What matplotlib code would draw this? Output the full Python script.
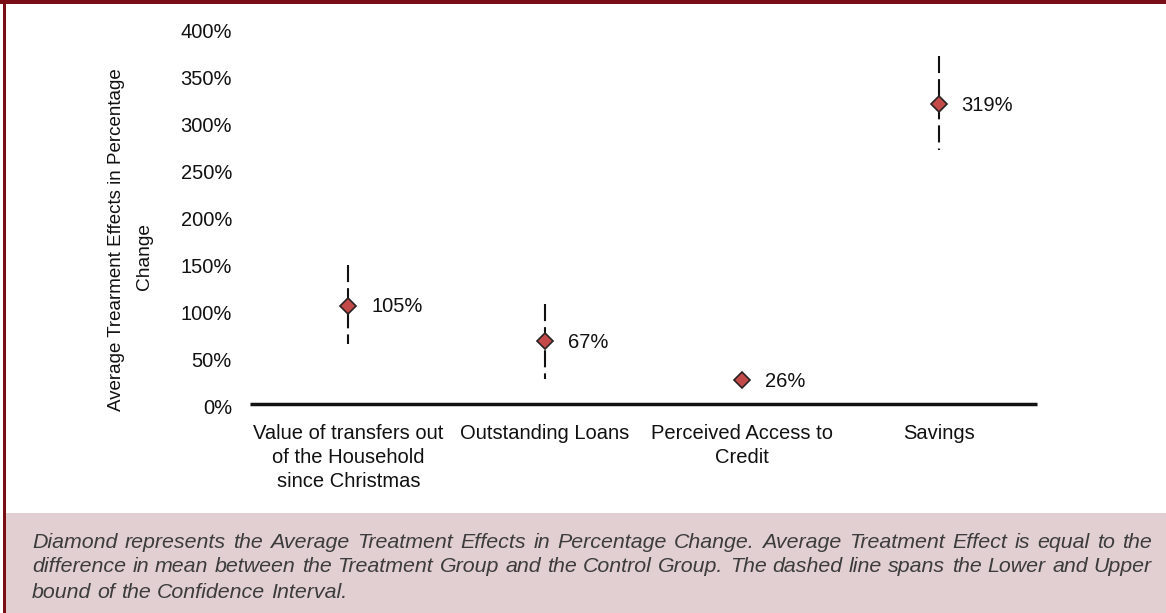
import numpy as np
import matplotlib
matplotlib.use("Agg")
import matplotlib.pyplot as plt
import matplotlib.transforms as mtransforms
from matplotlib.patches import Rectangle

# ---- data ----
categories = ["Value of transfers out\nof the Household\nsince Christmas",
              "Outstanding Loans",
              "Perceived Access to\nCredit",
              "Savings"]
ate = [105, 67, 26, 319]
ci_upper = [148, 107, np.nan, 370]
ci_lower = [64, 27, np.nan, 271]
yticks = [0, 50, 100, 150, 200, 250, 300, 350, 400]
ylabel_lines = ["Average Trearment Effects in Percentage", "Change"]
caption_lines = [
    "Diamond represents the Average Treatment Effects in Percentage Change. Average Treatment Effect is equal to the",
    "difference in mean between the Treatment Group and the Control Group. The dashed line spans the Lower and Upper",
    "bound of the Confidence Interval.",
]

W, H = 1166, 613
plt.rcParams['font.family'] = ['Liberation Sans', 'DejaVu Sans']
fig = plt.figure(figsize=(W / 100, H / 100), dpi=100)
fig.patch.set_facecolor('white')

BORDER = '#7A0E17'
# caption box
fig.patches.append(Rectangle((6 / W, 0), 1 - 6 / W, (H - 513) / H, transform=fig.transFigure,
                             facecolor='#E2CFD1', edgecolor='none', zorder=0))
# borders
fig.patches.append(Rectangle((0, 1 - 4 / H), 1, 4 / H, transform=fig.transFigure,
                             facecolor=BORDER, edgecolor='none', zorder=1))
fig.patches.append(Rectangle((3 / W, 0), 3 / W, 1, transform=fig.transFigure,
                             facecolor=BORDER, edgecolor='none', zorder=1))

# axes placement
left, right = 250 / W, 1037 / W
bottom, top = 1 - 404.3 / H, 1 - 28.3 / H
ax = fig.add_axes([left, bottom, right - left, top - bottom])
ax.set_facecolor('none')
x = np.arange(len(categories))
ax.set_xlim(-0.5, len(categories) - 0.5)
ax.set_ylim(0, 400)

for s in ['top', 'right', 'left']:
    ax.spines[s].set_visible(False)
ax.spines['bottom'].set_linewidth(2.5)
ax.spines['bottom'].set_color('#111111')
ax.spines['bottom'].set_capstyle('butt')

ax.set_yticks(yticks)
ax.set_yticklabels([f"{v}%" for v in yticks])
ax.set_xticks(x)
ax.set_xticklabels(categories, linespacing=1.33)
ax.tick_params(axis='y', length=0, pad=13, labelsize=14.5, labelcolor='#111111')
ax.tick_params(axis='x', length=0, pad=14, labelsize=14.5, labelcolor='#111111')
shift = mtransforms.ScaledTranslation(0, -1.5 / 72, fig.dpi_scale_trans)
for lab in ax.get_yticklabels():
    lab.set_transform(lab.get_transform() + shift)

# confidence intervals (dashed), drawn top to bottom
for xi, lo, up in zip(x, ci_lower, ci_upper):
    if np.isnan(lo) or np.isnan(up):
        continue
    ax.plot([xi, xi], [up, lo], color='#111111', lw=1.5,
            linestyle=(0, (8.2, 2.9)), dash_capstyle='butt', zorder=2, clip_on=False)

# diamonds
ax.plot(x, ate, linestyle='none', marker='D', markersize=8.2,
        markerfacecolor='#C44A4A', markeredgecolor='#2A2222', markeredgewidth=1.2,
        zorder=3, clip_on=False)

for xi, v in zip(x, ate):
    ax.annotate(f"{v}%", (xi, v), xytext=(16.5, -1), textcoords='offset points',
                ha='left', va='center', fontsize=14.5, color='#111111')

# y label (two centered lines)
fig.text(117 / W, 1 - 240 / H, ylabel_lines[0], rotation=90, ha='center', va='center',
         fontsize=13.5, color='#111111')
fig.text(144 / W, 1 - 256 / H, ylabel_lines[1], rotation=90, ha='center', va='center',
         fontsize=13.8, color='#111111')

# caption, justified
renderer = fig.canvas.get_renderer()
x0, x1 = 32, 1152
base_size = 13.3
probe = fig.text(0, 0, caption_lines[1], fontsize=base_size, style='italic')
natural = probe.get_window_extent(renderer).width
probe.remove()
cap_size = base_size * (x1 - x0) / natural * 0.995
cap_kw = dict(fontsize=cap_size, style='italic', color='#3C3C3C', va='center', ha='left')
line_y = [542, 567, 592]
sp = fig.text(0, 0, 'a a', **cap_kw)
sp2 = fig.text(0, 0, 'aa', **cap_kw)
space_w = sp.get_window_extent(renderer).width - sp2.get_window_extent(renderer).width
sp.remove(); sp2.remove()
for i, line in enumerate(caption_lines):
    words = line.split(' ')
    texts = [fig.text(0, 1 - line_y[i] / H, w, **cap_kw) for w in words]
    widths = [t.get_window_extent(renderer).width for t in texts]
    if i < len(caption_lines) - 1:
        gap = (x1 - x0 - sum(widths)) / (len(words) - 1)
    else:
        gap = space_w
    pos = x0
    for t, wdt in zip(texts, widths):
        t.set_x(pos / W)
        pos += wdt + gap

fig.savefig('out.png', dpi=100)
